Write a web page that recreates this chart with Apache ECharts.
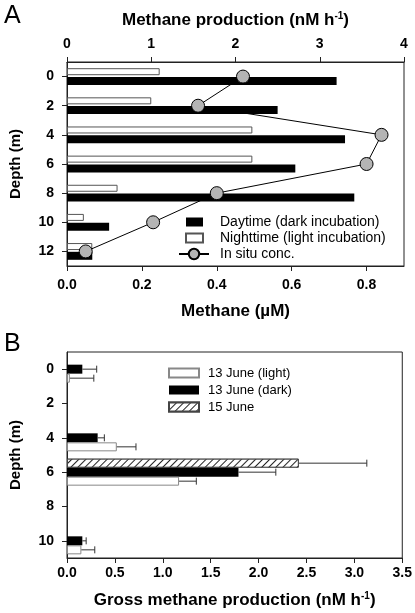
<!DOCTYPE html>
<html>
<head>
<meta charset="utf-8">
<script src="https://cdn.jsdelivr.net/npm/echarts@6/dist/echarts.min.js"></script>
<style>
html,body{margin:0;padding:0;background:#fff;}
#main{width:415px;height:613px;}
</style>
</head>
<body>
<div id="main"></div>
<script>
// ---------- Panel A data ----------
const depthsA = ['0', '2', '4', '6', '8', '10', '12'];
const daytime = [3.2, 2.5, 3.3, 2.71, 3.41, 0.5, 0.3];      // nM h-1 (dark incubation)
const nighttime = [1.1, 1.0, 2.2, 2.2, 0.6, 0.2, 0.3];      // nM h-1 (light incubation)
const inSitu = [0.47, 0.35, 0.84, 0.80, 0.40, 0.23, 0.05];  // µM
const prodTicksA = [0, 1, 2, 3, 4];
const concTicksA = [0, 0.2, 0.4, 0.6, 0.8];
const concMaxA = 0.9;

// ---------- Panel B data ----------
const depthsB = ['0', '2', '4', '6', '8', '10'];
const june13Light = [0.03, null, 0.52, 1.17, null, 0.15];
const june13LightHi = [0.28, null, 0.72, 1.35, null, 0.29];
const june13Dark = [0.16, null, 0.32, 1.79, null, 0.16];
const june13DarkHi = [0.31, null, 0.39, 2.18, null, 0.20];
const june15 = [null, null, null, 2.42, null, null];
const june15Hi = [null, null, null, 3.13, null, null];
const grossTicksB = [0, 0.5, 1.0, 1.5, 2.0, 2.5, 3.0, 3.5];

const FONT = 'Liberation Sans, Arial, sans-serif';
const chart = echarts.init(document.getElementById('main'), null, {renderer: 'canvas'});

function errSeries(name, lo, hi, offset) {
  const data = [];
  lo.forEach((v, i) => { if (v != null && hi[i] != null) data.push([v, i, hi[i]]); });
  return {
    type: 'custom', name: name + ' err', xAxisIndex: 2, yAxisIndex: 1, z: 5,
    encode: {x: [0, 2], y: 1},
    data: data,
    renderItem: function (params, api) {
      const p0 = api.coord([api.value(0), api.value(1)]);
      const p1 = api.coord([api.value(2), api.value(1)]);
      const y = p0[1] + offset;
      const st = {stroke: '#333', lineWidth: 1};
      return {type: 'group', children: [
        {type: 'line', shape: {x1: p0[0], y1: y, x2: p1[0], y2: y}, style: st},
        {type: 'line', shape: {x1: p1[0], y1: y - 3.5, x2: p1[0], y2: y + 3.5}, style: st}
      ]};
    }
  };
}

const boldLabel = {fontFamily: FONT, fontWeight: 'bold', fontSize: 14, color: '#000'};
const axLine = {show: true, lineStyle: {color: '#222', width: 1}};
const axTick = {show: true, inside: false, length: 5, lineStyle: {color: '#222'}};

const option = {
  animation: false,
  backgroundColor: '#fff',
  textStyle: {fontFamily: FONT},
  grid: [
    {left: 60, top: 62, width: 344, height: 204, show: true, borderColor: '#222', borderWidth: 1, backgroundColor: 'transparent'},
    {left: 60, top: 352, width: 344, height: 206, show: true, borderColor: '#222', borderWidth: 1, backgroundColor: 'transparent'}
  ],
  xAxis: [
    {
      gridIndex: 0, type: 'value', position: 'top',
      min: prodTicksA[0], max: prodTicksA[prodTicksA.length - 1], interval: prodTicksA[1] - prodTicksA[0],
      axisLine: axLine, axisTick: axTick, splitLine: {show: false},
      axisLabel: Object.assign({margin: 11}, boldLabel),
      name: 'Methane production (nM h{sup|-1})', nameLocation: 'middle', nameGap: 33,
      nameTextStyle: {fontFamily: FONT, fontWeight: 'bold', fontSize: 17, color: '#000',
        rich: {sup: {fontFamily: FONT, fontWeight: 'bold', fontSize: 10, verticalAlign: 'top', padding: [0, 0, 8, 0], color: '#000'}}}
    },
    {
      gridIndex: 0, type: 'value', position: 'bottom',
      min: concTicksA[0], max: concMaxA, interval: concTicksA[1] - concTicksA[0],
      axisLine: axLine, axisTick: axTick, splitLine: {show: false},
      axisLabel: Object.assign({margin: 12, showMaxLabel: false, formatter: v => v.toFixed(1)}, boldLabel),
      name: 'Methane (µM)', nameLocation: 'middle', nameGap: 37,
      nameTextStyle: {fontFamily: FONT, fontWeight: 'bold', fontSize: 17, color: '#000'}
    },
    {
      gridIndex: 1, type: 'value', position: 'bottom',
      min: grossTicksB[0], max: grossTicksB[grossTicksB.length - 1], interval: grossTicksB[1] - grossTicksB[0],
      axisLine: axLine, axisTick: axTick, splitLine: {show: false},
      axisLabel: Object.assign({margin: 8, formatter: v => v.toFixed(1)}, boldLabel),
      name: 'Gross methane production (nM h{sup|-1})', nameLocation: 'middle', nameGap: 33,
      nameTextStyle: {fontFamily: FONT, fontWeight: 'bold', fontSize: 17, color: '#000',
        rich: {sup: {fontFamily: FONT, fontWeight: 'bold', fontSize: 10, verticalAlign: 'top', padding: [0, 0, 8, 0], color: '#000'}}}
    }
  ],
  yAxis: [
    {
      gridIndex: 0, type: 'category', data: depthsA, inverse: true,
      axisLine: axLine, axisTick: Object.assign({alignWithLabel: true}, axTick),
      axisLabel: Object.assign({margin: 13}, boldLabel),
      name: 'Depth (m)', nameLocation: 'middle', nameGap: 44, nameRotate: 90,
      nameTextStyle: {fontFamily: FONT, fontWeight: 'bold', fontSize: 15, color: '#000'}
    },
    {
      gridIndex: 1, type: 'category', data: depthsB, inverse: true,
      axisLine: axLine, axisTick: Object.assign({alignWithLabel: true}, axTick),
      axisLabel: Object.assign({margin: 13}, boldLabel),
      name: 'Depth (m)', nameLocation: 'middle', nameGap: 44, nameRotate: 90,
      nameTextStyle: {fontFamily: FONT, fontWeight: 'bold', fontSize: 15, color: '#000'}
    }
  ],
  legend: [
    {
      left: 185, top: 215, padding: 0, orient: 'vertical', itemWidth: 17, itemHeight: 9, itemGap: 2, selectedMode: false,
      icon: 'rect',
      data: ['Daytime (dark incubation)', 'Nighttime (light incubation)'],
      textStyle: {fontFamily: FONT, fontSize: 14, color: '#000', lineHeight: 14, padding: [0, 0, 0, 12]}
    },
    {
      left: 178, top: 247, padding: 0, orient: 'vertical', itemWidth: 30, itemHeight: 13, selectedMode: false,
      data: ['In situ conc.'],
      textStyle: {fontFamily: FONT, fontSize: 14, color: '#000', lineHeight: 14, padding: [0, 0, 0, 6]}
    },
    {
      left: 168, top: 366, padding: 0, orient: 'vertical', itemWidth: 30, itemHeight: 9, itemGap: 3, selectedMode: false,
      icon: 'rect',
      data: ['13 June (light)', '13 June (dark)', '15 June'],
      textStyle: {fontFamily: FONT, fontSize: 13, color: '#000', lineHeight: 14, padding: [0, 0, 0, 4]}
    }
  ],
  graphic: [
    {type: 'text', left: 4, top: 4, style: {text: 'A', fontFamily: FONT, fontSize: 25, fill: '#000'}},
    {type: 'text', left: 4, top: 332, style: {text: 'B', fontFamily: FONT, fontSize: 25, fill: '#000'}}
  ],
  series: [
    {
      type: 'bar', name: 'Nighttime (light incubation)', xAxisIndex: 0, yAxisIndex: 0,
      data: nighttime, barWidth: 7, barGap: '25%',
      itemStyle: {color: '#fff', borderColor: '#555', borderWidth: 1}
    },
    {
      type: 'bar', name: 'Daytime (dark incubation)', xAxisIndex: 0, yAxisIndex: 0,
      data: daytime, barWidth: 8, barGap: '25%',
      itemStyle: {color: '#000', borderColor: '#000', borderWidth: 0}
    },
    {
      type: 'line', name: 'In situ conc.', xAxisIndex: 1, yAxisIndex: 0, z: 10,
      data: inSitu, symbol: 'circle', symbolSize: 13,
      lineStyle: {color: '#000', width: 1},
      itemStyle: {color: '#b4b4b4', borderColor: '#000', borderWidth: 1}
    },
    {
      type: 'bar', name: '15 June', xAxisIndex: 2, yAxisIndex: 1,
      data: june15, barWidth: 9, barGap: '0%',
      itemStyle: {color: '#fff', borderColor: '#444', borderWidth: 1,
        decal: {symbol: 'rect', symbolSize: 1, color: '#222', backgroundColor: '#fff', dashArrayX: [1, 0], dashArrayY: [1, 4], rotation: -Math.PI / 4}}
    },
    {
      type: 'bar', name: '13 June (dark)', xAxisIndex: 2, yAxisIndex: 1,
      data: june13Dark, barWidth: 9, barGap: '0%',
      itemStyle: {color: '#000', borderColor: '#000', borderWidth: 0}
    },
    {
      type: 'bar', name: '13 June (light)', xAxisIndex: 2, yAxisIndex: 1,
      data: june13Light, barWidth: 9, barGap: '0%',
      itemStyle: {color: '#fff', borderColor: '#888', borderWidth: 1}
    },
    errSeries('15 June', june15, june15Hi, -9),
    errSeries('13 June (dark)', june13Dark, june13DarkHi, 0),
    errSeries('13 June (light)', june13Light, june13LightHi, 9)
  ]
};
chart.setOption(option);
</script>
</body>
</html>
